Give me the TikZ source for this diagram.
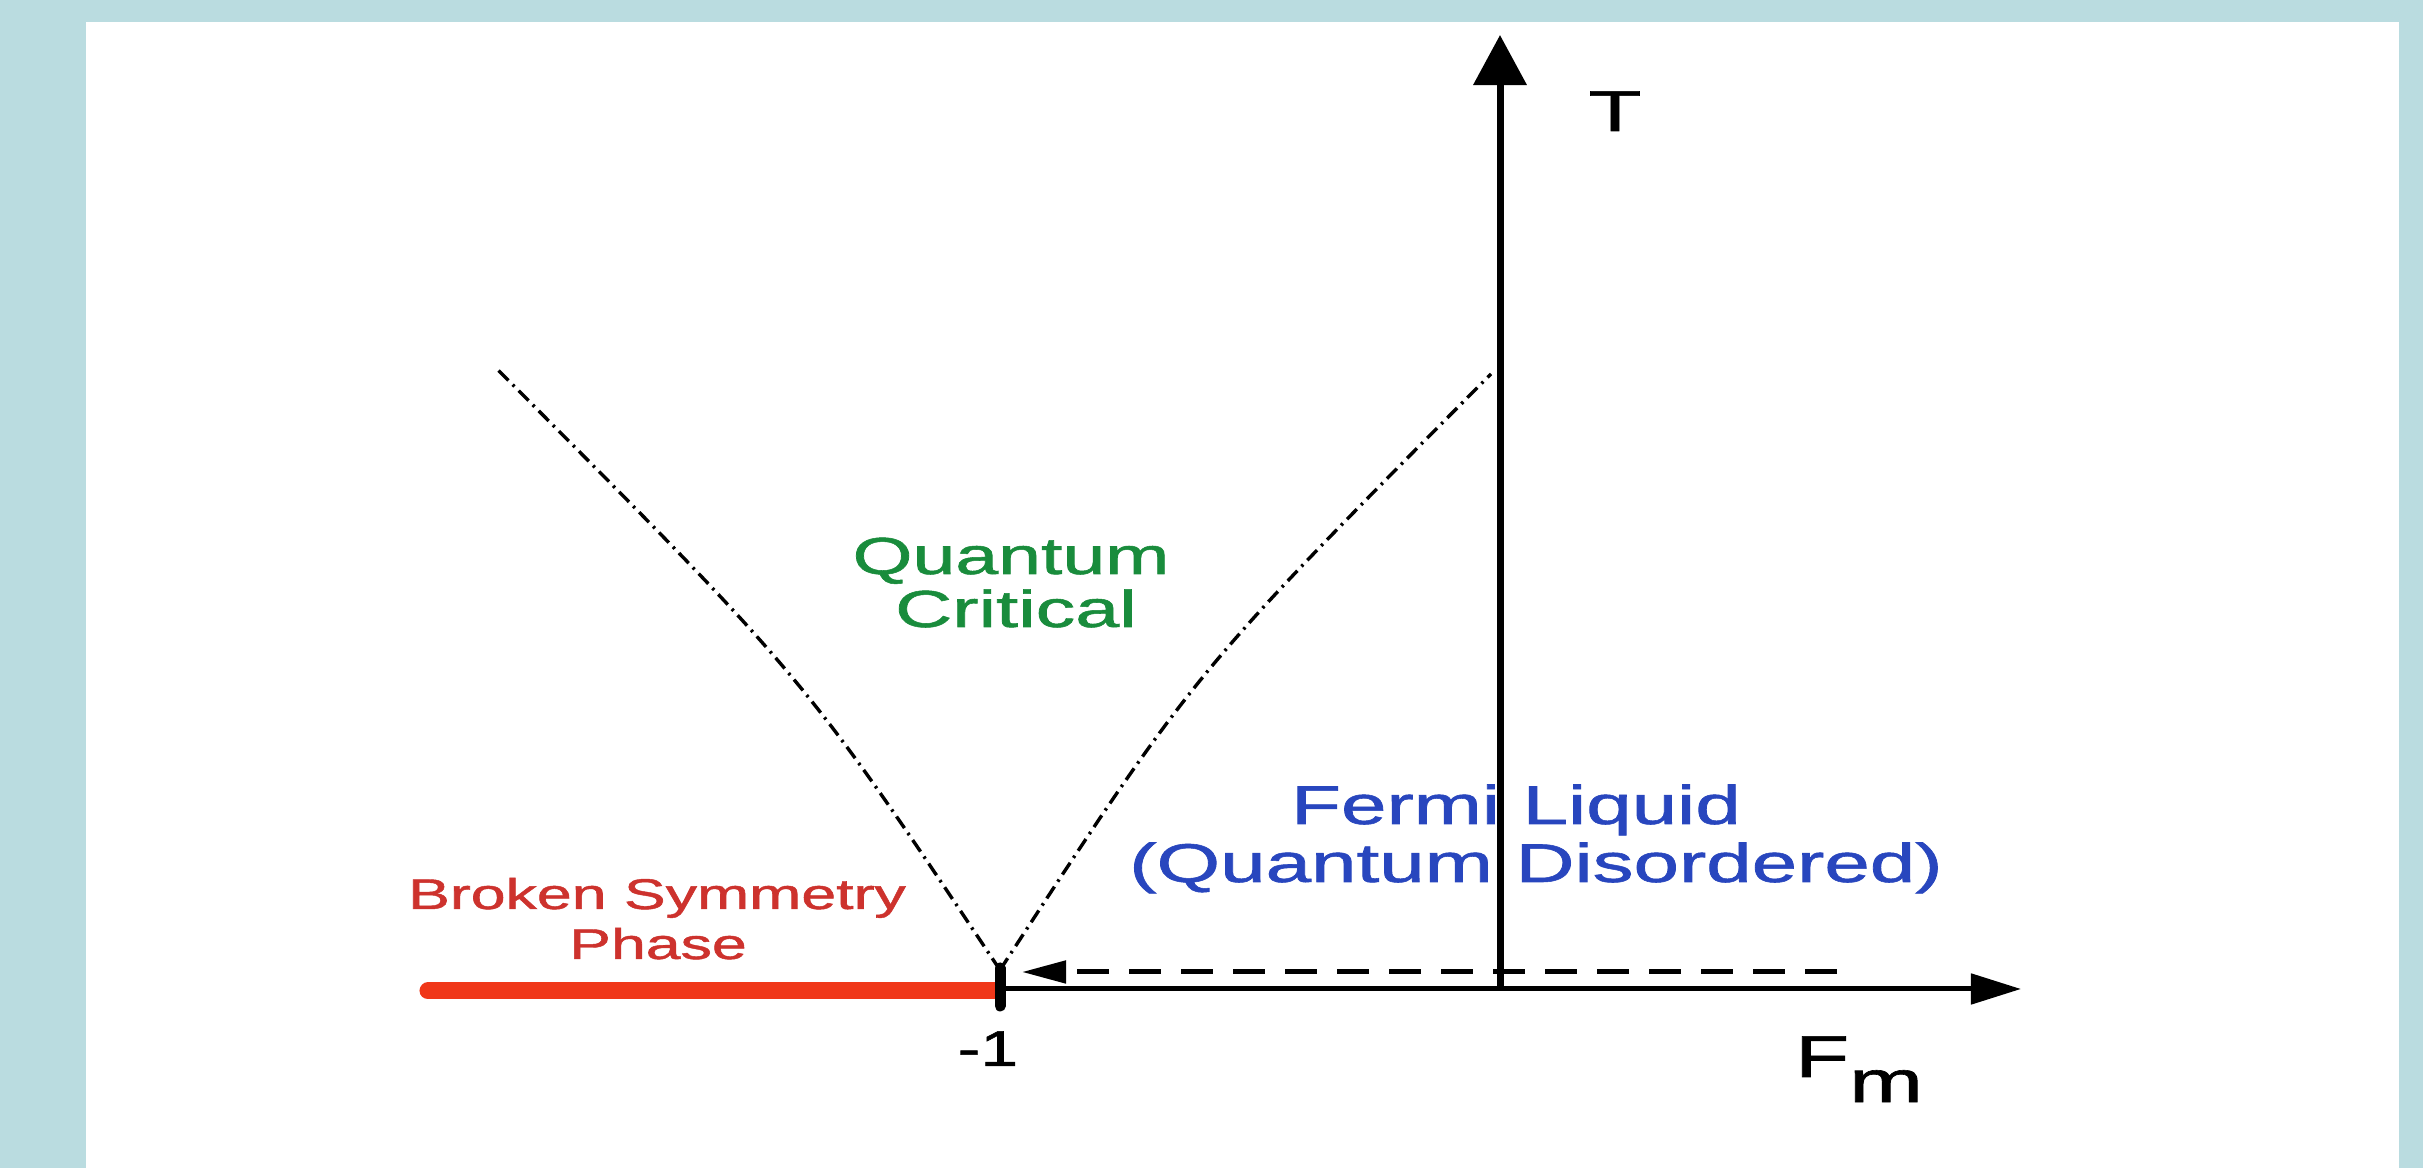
\documentclass[tikz,border=0pt]{standalone}
\usepackage{fontspec}
\setmainfont{Liberation Sans}
\newfontfamily\lblfont[FakeBold=1.0]{Liberation Sans}
\usetikzlibrary{arrows.meta}
\definecolor{bgblue}{RGB}{186,220,224}
\definecolor{qcgreen}{RGB}{25,140,60}
\definecolor{flblue}{RGB}{40,70,190}
\definecolor{bsred}{RGB}{205,50,45}
\definecolor{phasered}{RGB}{240,55,25}
\newcommand{\wlbl}[3]{\scalebox{#1}[1]{\lblfont\fontsize{#2}{#2}\selectfont #3}}
\begin{document}
\begin{tikzpicture}[x=0.01cm,y=-0.01cm,
  lbl/.style={inner sep=0pt, outer sep=0pt, anchor=base},
  crossover/.style={line width=0.034cm, dash pattern=on 0.14cm off 0.06cm on 0.025cm off 0.06cm},
  axisline/.style={black, line width=#1},
  ordered/.style={phasered, line width=0.17cm, line cap=round},
  flow/.style={line width=0.05cm, dash pattern=on 0.32cm off 0.2cm, -{Triangle[length=0.44cm,width=0.22cm]}}]
\fill[bgblue] (0,0) rectangle (2423,1168);
\fill[white] (86,22) rectangle (2399,1168);
\useasboundingbox (0,0) rectangle (2423,1168);
% coordinates
\coordinate (QCP) at (1000,970);
\coordinate (O) at (1500,989);
\coordinate (Tend) at (1500,35);
\coordinate (Fstart) at (1000,989);
\coordinate (Fend) at (2021,989);
\coordinate (Lend) at (498,370);
\coordinate (Rend) at (1491,374);
\coordinate (Dstart) at (1837,972);
\coordinate (Dtip) at (1022,972);
\coordinate (Rleft) at (428,991);
\coordinate (Rright) at (997,991);
\coordinate (tickTop) at (1000,968);
\coordinate (tickBot) at (1000,1006);
% labels
\node[lbl, text=qcgreen] (QC1) at (1011,574) {\wlbl{1.48}{14.8}{Quantum}};
\node[lbl, text=qcgreen] (QC2) at (1016,627) {\wlbl{1.52}{14.8}{Critical}};
\node[lbl, text=bsred] (BS1) at (657,909) {\wlbl{1.46}{12.2}{Broken Symmetry}};
\node[lbl, text=bsred] (BS2) at (658,959) {\wlbl{1.46}{12.2}{Phase}};
\node[lbl, text=flblue] (FL1) at (1516,824) {\wlbl{1.5}{15.5}{Fermi Liquid}};
\node[lbl, text=flblue] (FL2) at (1536,882) {\wlbl{1.5}{15.5}{(Quantum Disordered)}};
\node[lbl] (Tlab) at (1615,131) {\wlbl{1.5}{16.4}{T}};
\node[lbl, anchor=base west] (Fm) at (1795,1077) {\wlbl{1.5}{16.8}{F\raisebox{-0.25cm}{m}}};
\node[lbl] (minusone) at (988,1066) {\wlbl{1.35}{14.3}{-1}};
% crossover lines
\draw[crossover] (QCP) .. controls (805,678) .. (Lend);
\draw[crossover] (QCP) .. controls (1195,671) .. (Rend);
% ordered phase
\draw[ordered] (Rleft) -- (Rright);
% axes
\draw[axisline=0.05cm, -{Triangle[length=0.5cm,width=0.3cm]}] (Fstart) -- (Fend);
\draw[axisline=0.07cm, -{Triangle[length=0.5cm,width=0.52cm]}] (O) -- (Tend);
% RG flow
\draw[flow] (Dstart) -- (Dtip);
% critical point
\draw[line width=0.11cm, line cap=round] (tickTop) -- (tickBot);
\end{tikzpicture}
\end{document}
